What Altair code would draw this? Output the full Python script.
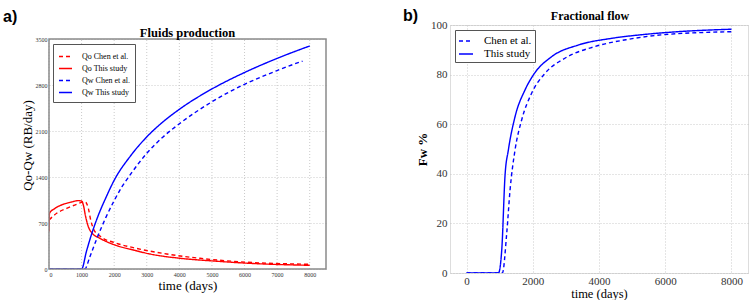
import altair as alt
import pandas as pd

# ---------------- Panel a) Fluids production ----------------
qo_chen_t = [0, 235, 542, 850, 1105, 1207, 1279, 1381, 1565, 2077, 2588, 3612, 4634, 5657, 8000]
qo_chen_v = [746, 848, 923, 985, 1025, 923, 746, 594, 502, 391, 325, 228, 163, 117, 71]

qo_this_t = [0, 15, 184, 440, 696, 900, 1000, 1053, 1125, 1207, 1310, 1565, 2025, 2588, 3100, 4020, 5043, 6170, 8000]
qo_this_v = [570, 848, 923, 985, 1020, 1040, 1035, 974, 796, 644, 553, 467, 365, 289, 228, 163, 122, 86, 56]

qw_chen_t = [0, 1100, 1250, 1450, 1750, 2000, 2250, 2500, 3000, 3500, 4000, 5000, 6000, 7000, 7785]
qw_chen_v = [0, 0, 180, 440, 790, 1040, 1260, 1440, 1760, 2010, 2210, 2545, 2810, 3020, 3166]

qw_this_t = [0, 1000, 1150, 1300, 1500, 1750, 2000, 2500, 3000, 3500, 4000, 5000, 6000, 7000, 8000]
qw_this_v = [0, 0, 270, 520, 800, 1090, 1350, 1720, 2010, 2240, 2430, 2740, 2990, 3205, 3394]

left_series = ["Qo Chen et al.", "Qo This study", "Qw Chen et al.", "Qw This study"]
left_ticks_x = [0, 1000, 2000, 3000, 4000, 5000, 6000, 7000, 8000]
left_ticks_y = [0, 700, 1400, 2100, 2800, 3500]

# ---------------- Panel b) Fractional flow ----------------
fw_chen_t = [0, 1083, 1213, 1314, 1464, 1664, 1965, 2367, 2969, 3871, 4873, 5875, 8000]
fw_chen_v = [0, 0, 16, 33.5, 49.6, 61.7, 72.5, 80.5, 86.6, 91.3, 94.2, 96.0, 97.3]

fw_this_t = [0, 963, 1063, 1163, 1263, 1464, 1765, 2015, 2567, 3369, 4371, 5375, 6377, 8000]
fw_this_v = [0, 0, 9.3, 39.5, 49.6, 63, 73.8, 79.8, 87.2, 91.9, 94.6, 96.2, 97.3, 98.3]

right_series = ["Chen et al.", "This study"]
right_ticks_x = [0, 2000, 4000, 6000, 8000]
right_ticks_y = [0, 20, 40, 60, 80, 100]

SERIF = "Liberation Serif"
SANS = "Liberation Sans"
FRAME = "#8a8a8a"
GRID = "#bdbdbd"


def long(pairs):
    rows = []
    for name, ts, vs in pairs:
        for i, (t, v) in enumerate(zip(ts, vs)):
            rows.append({"t": t, "v": v, "s": name, "i": i})
    return pd.DataFrame(rows)


dfL = long([
    (left_series[0], qo_chen_t, qo_chen_v),
    (left_series[1], qo_this_t, qo_this_v),
    (left_series[2], qw_chen_t, qw_chen_v),
    (left_series[3], qw_this_t, qw_this_v),
])
dfR = long([
    (right_series[0], fw_chen_t, fw_chen_v),
    (right_series[1], fw_this_t, fw_this_v),
])
dfGridL = pd.DataFrame({"t": left_ticks_x, "v": [0] * len(left_ticks_x),
                        "v2": [left_ticks_y[-1]] * len(left_ticks_x)})

DASH = [4, 3]
grid_kw = dict(gridColor=GRID, gridDash=[1, 2], gridWidth=0.8, ticks=False, domain=False)

# left panel: plot origin shared with right panel (y=25); its frame starts 14px lower
LH = 244
LTOP = 14
xL = alt.Scale(domain=[0, 8500], nice=False, zero=False)
yL = alt.Scale(domain=[0, 3500], nice=False, range=[LH, LTOP])

axisXL = alt.Axis(values=left_ticks_x, title="time (days)", labelFontSize=6,
                  labelFont=SERIF, labelPadding=2, labelColor="#333",
                  titleFont=SERIF, titleFontSize=13, titleFontWeight="normal",
                  titlePadding=2, titleColor="black", format="d", grid=False,
                  ticks=False, domain=False)
axisYL = alt.Axis(values=left_ticks_y, title="Qo-Qw (RB/day)", labelFontSize=6,
                  labelFont=SERIF, labelPadding=2, labelColor="#333",
                  titleFont=SERIF, titleFontSize=13, titleFontWeight="normal",
                  titleColor="black", titleX=-22, titleY=120, titleBaseline="middle",
                  format="d", **grid_kw)

legL = alt.Legend(orient="none", legendX=4, legendY=19, title=None, symbolType="stroke",
                  symbolSize=169, symbolStrokeWidth=1.4, labelFont=SERIF, labelFontSize=8,
                  labelColor="black", labelOffset=9, padding=5, rowPadding=0,
                  strokeColor="#555", fillColor="white", labelLimit=200)

gridL = alt.Chart(dfGridL).mark_rule(color=GRID, strokeDash=[1, 2], strokeWidth=0.8).encode(
    x=alt.X("t:Q", scale=xL, axis=axisXL),
    y=alt.Y("v:Q", scale=yL, axis=axisYL),
    y2="v2:Q",
)

frameL = alt.Chart(pd.DataFrame({"f": [0]})).mark_rect(
    fill=None, stroke=FRAME, strokeWidth=1.5
).encode(x=alt.value(0), x2=alt.value(277), y=alt.value(LTOP), y2=alt.value(LH))

linesL = alt.Chart(dfL).mark_line(strokeWidth=1.4, clip=True, interpolate="monotone").encode(
    x=alt.X("t:Q", scale=xL, axis=axisXL),
    y=alt.Y("v:Q", scale=yL, axis=axisYL),
    color=alt.Color("s:N", scale=alt.Scale(domain=left_series, range=["red", "red", "blue", "blue"]),
                    legend=legL),
    strokeDash=alt.StrokeDash("s:N", scale=alt.Scale(domain=left_series,
                                                      range=[DASH, [1, 0], DASH, [1, 0]]),
                              legend=legL),
    order="i:Q",
)

labA = alt.Chart(pd.DataFrame({"lab": ["a)"]})).mark_text(
    font=SANS, fontSize=16, fontWeight="bold", align="left", baseline="middle", color="black"
).encode(text="lab:N", x=alt.value(-46), y=alt.value(-8.5))

titleA = alt.Chart(pd.DataFrame({"lab": ["Fluids production"]})).mark_text(
    font=SERIF, fontSize=12.5, fontWeight="bold", align="center", baseline="middle", color="black"
).encode(text="lab:N", x=alt.value(138.5), y=alt.value(8))

left = alt.layer(gridL, linesL, frameL, labA, titleA).properties(
    width=277, height=LH, view=alt.ViewBackground(stroke=None),
)

legR = alt.Legend(orient="none", legendX=5, legendY=5, title=None, symbolType="stroke",
                  symbolSize=196, symbolStrokeWidth=1.4, labelFont=SERIF, labelFontSize=11,
                  labelColor="black", labelOffset=10, padding=3, rowPadding=0,
                  strokeColor="#555", fillColor="white", labelLimit=200)

linesR = alt.Chart(dfR).mark_line(strokeWidth=1.4, clip=True, interpolate="monotone").encode(
    x=alt.X("t:Q", scale=alt.Scale(domain=[-500, 8500], nice=False, zero=False),
            axis=alt.Axis(values=right_ticks_x, title="time (days)", labelFontSize=11,
                          labelFont=SERIF, labelPadding=2, labelColor="#333",
                          titleFont=SERIF, titleFontSize=12.5, titleFontWeight="normal",
                          titlePadding=1, titleColor="black", format="d", **grid_kw)),
    y=alt.Y("v:Q", scale=alt.Scale(domain=[0, 100], nice=False),
            axis=alt.Axis(values=right_ticks_y, title="Fw %", labelFontSize=11,
                          labelFont=SERIF, labelPadding=3, labelColor="#333",
                          titleFont=SERIF, titleFontSize=13, titleFontWeight="bold",
                          titleColor="black", titleX=-28, titleY=124, titleBaseline="middle",
                          format="d", **grid_kw)),
    color=alt.Color("s:N", scale=alt.Scale(domain=right_series, range=["blue", "blue"]),
                    legend=legR),
    strokeDash=alt.StrokeDash("s:N", scale=alt.Scale(domain=right_series, range=[DASH, [1, 0]]),
                              legend=legR),
    order="i:Q",
)

labB = alt.Chart(pd.DataFrame({"lab": ["b)"]})).mark_text(
    font=SANS, fontSize=16, fontWeight="bold", align="left", baseline="middle", color="black"
).encode(text="lab:N", x=alt.value(-47), y=alt.value(-9.5))

titleB = alt.Chart(pd.DataFrame({"lab": ["Fractional flow"]})).mark_text(
    font=SERIF, fontSize=12, fontWeight="bold", align="center", baseline="middle", color="black"
).encode(text="lab:N", x=alt.value(140), y=alt.value(-9))

right = alt.layer(linesR, labB, titleB).properties(width=298, height=248)

chart = alt.hconcat(left, right, spacing=75).resolve_scale(
    color="independent", strokeDash="independent", x="independent", y="independent"
).resolve_legend(color="independent", strokeDash="independent").properties(
    padding={"left": 3, "top": 7, "right": 0, "bottom": 0}
).configure_view(stroke=FRAME, strokeWidth=1.5).configure(font=SERIF)

chart.save("out.html", embed_options={"renderer": "svg", "actions": False})
